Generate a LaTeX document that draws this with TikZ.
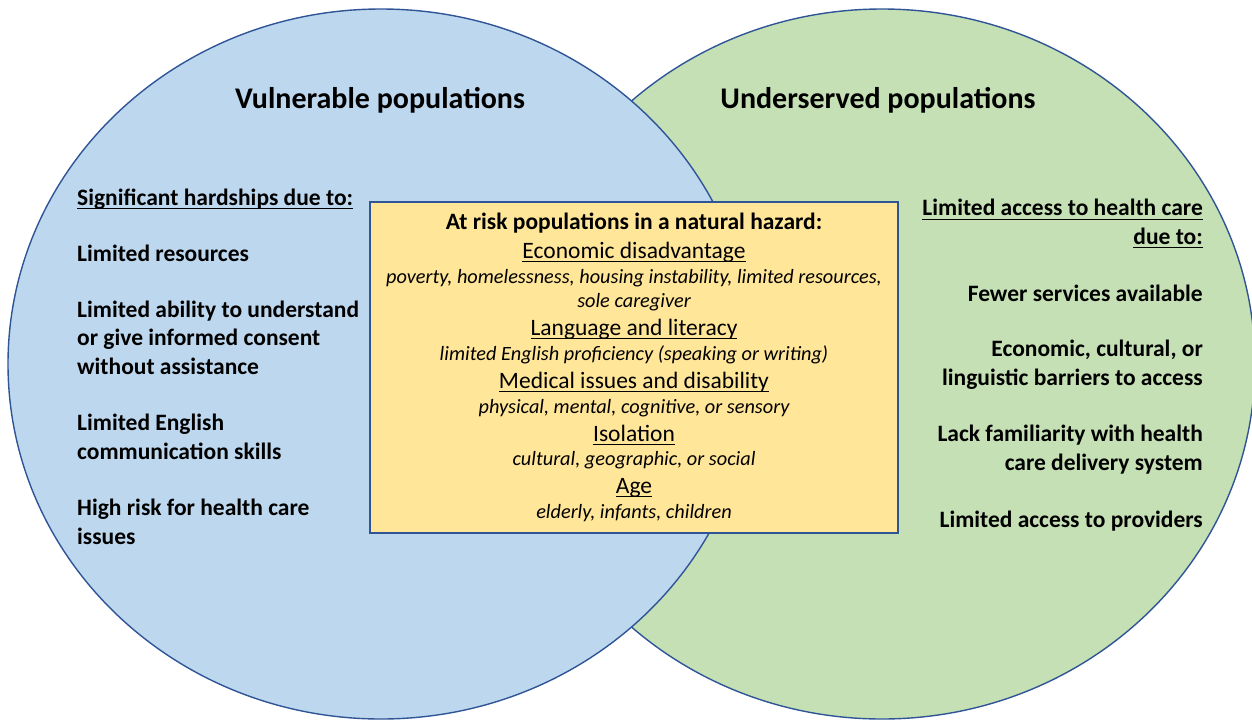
\documentclass[tikz,border=0pt]{standalone}
\usepackage{fontspec}
\setmainfont{Carlito}
\usepackage{tikz}
\usetikzlibrary{positioning}
\usepackage{xcolor}

\definecolor{vulblue}{HTML}{BDD7EE}
\definecolor{undgreen}{HTML}{C5E0B4}
\definecolor{riskyellow}{HTML}{FFE699}
\definecolor{edgeblue}{HTML}{2F5597}

\newcommand{\undl}[1]{\setbox0=\hbox{#1}\rlap{\rule[-4.2pt]{\wd0}{1.3pt}}\box0}

\begin{document}
\begin{tikzpicture}[x=1pt, y=-1pt,
	head/.style={font=\fontsize{30}{36}\selectfont\bfseries, inner sep=0pt, anchor=base},
	item/.style={font=\fontsize{23.5}{28.3}\selectfont\bfseries, inner sep=0pt},
	boxhead/.style={font=\fontsize{23.5}{28}\selectfont, inner sep=0pt, anchor=base},
	boxsub/.style={font=\fontsize{20.3}{24}\selectfont\itshape, inner sep=0pt, anchor=base}]
	\useasboundingbox (0,0) rectangle (1252,721);
	% the two sets, the left one on top
	\filldraw[fill=undgreen, draw=edgeblue, line width=1.4pt] (882,364) ellipse [x radius=373, y radius=355];
	\filldraw[fill=vulblue, draw=edgeblue, line width=1.4pt] (381,364) ellipse [x radius=373, y radius=355];
	\node[head] (vultitle) at (380,108) {Vulnerable populations};
	\node[head] (undtitle) at (878,108) {Underserved populations};
	% left set (multi-line nodes sit on their last line)
	\node[item, anchor=base west, align=left] (hardhead) at (77,205) {\undl{Significant hardships due to:}};
	\node[item, anchor=base west, align=left] (hardres) at (77,261) {Limited resources};
	\node[item, anchor=base west, align=left] (hardcons) at (77,374) {Limited ability to understand\\or give informed consent\\without assistance};
	\node[item, anchor=base west, align=left] (hardeng) at (77,459) {Limited English\\communication skills};
	\node[item, anchor=base west, align=left] (hardrisk) at (77,544) {High risk for health care\\issues};
	% right set
	\node[item, anchor=base east, align=right] (acchead) at (1203,244) {\undl{Limited access to health care}\\\undl{due to:}};
	\node[item, anchor=base east, align=right] (accserv) at (1203,301) {Fewer services available};
	\node[item, anchor=base east, align=right] (accbar) at (1203,385) {Economic, cultural, or\\linguistic barriers to access};
	\node[item, anchor=base east, align=right] (accsys) at (1203,470) {Lack familiarity with health\\care delivery system};
	\node[item, anchor=base east, align=right] (accprov) at (1203,527) {Limited access to providers};
	% overlap box
	\node[draw=edgeblue, fill=riskyellow, line width=1.1pt, minimum width=528pt, minimum height=331pt, inner sep=0pt] (riskbox) at (634,367.5) {};
	\node[boxhead, font=\fontsize{23.5}{28}\selectfont\bfseries] (risktitle) at (634,229) {At risk populations in a natural hazard:};
	\node[boxhead] (econ) at (634,258) {\undl{Economic disadvantage}};
	\node[boxsub] (econa) at (634,283) {poverty, homelessness, housing instability, limited resources,};
	\node[boxsub] (econb) at (634,307) {sole caregiver};
	\node[boxhead] (lang) at (634,335) {\undl{Language and literacy}};
	\node[boxsub] (langa) at (634,360) {limited English proficiency (speaking or writing)};
	\node[boxhead] (med) at (634,388) {\undl{Medical issues and disability}};
	\node[boxsub] (meda) at (634,413) {physical, mental, cognitive, or sensory};
	\node[boxhead] (iso) at (634,441) {\undl{Isolation}};
	\node[boxsub] (isoa) at (634,465) {cultural, geographic, or social};
	\node[boxhead] (age) at (634,493) {\undl{Age}};
	\node[boxsub] (agea) at (634,518) {elderly, infants, children};
\end{tikzpicture}
\end{document}
